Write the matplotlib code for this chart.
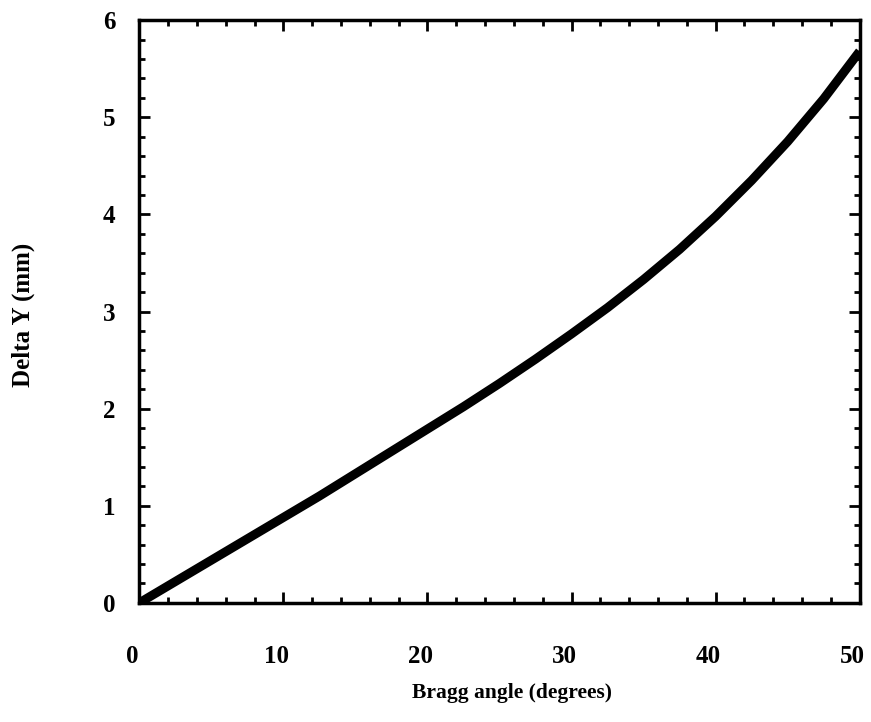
import matplotlib
matplotlib.use('Agg')
import matplotlib.pyplot as plt
import matplotlib.transforms as mtransforms
from matplotlib.ticker import MultipleLocator

# values
bragg_angle = [0, 2.5, 5, 7.5, 10, 12.5, 15, 17.5, 20, 22.5, 25,
               27.5, 30, 32.5, 35, 37.5, 40, 42.5, 45, 47.5, 50]
delta_y = [0.0, 0.22, 0.44, 0.66, 0.88, 1.10, 1.33, 1.56, 1.79, 2.02, 2.26,
           2.51, 2.77, 3.04, 3.33, 3.64, 3.98, 4.35, 4.75, 5.19, 5.68]

plt.rcParams['font.family'] = ['Liberation Serif']
plt.rcParams['font.weight'] = 'bold'

fig = plt.figure(figsize=(8.71, 7.22), dpi=100)
ax = fig.add_axes([0.160, 0.165, 0.827, 0.807])

ax.plot(bragg_angle, delta_y, '-', color='black', linewidth=6.5,
        solid_capstyle='butt', solid_joinstyle='round')

ax.set_xlim(0, 50)
ax.set_ylim(0, 6)
ax.xaxis.set_major_locator(MultipleLocator(10))
ax.xaxis.set_minor_locator(MultipleLocator(2))
ax.yaxis.set_major_locator(MultipleLocator(1))
ax.yaxis.set_minor_locator(MultipleLocator(0.2))
ax.tick_params(which='both', direction='in', top=True, right=True, width=2)
ax.tick_params(which='major', length=8, labelsize=18)
ax.tick_params(axis='x', which='major', pad=30)
ax.tick_params(axis='y', which='major', pad=17)
ax.tick_params(which='minor', length=4.5)
for s in ax.spines.values():
    s.set_linewidth(2.5)

# the scanned labels sit a little left of their ticks
shift = mtransforms.ScaledTranslation(-5 / 72, 0, fig.dpi_scale_trans)
for lbl in ax.get_xticklabels():
    lbl.set_transform(lbl.get_transform() + shift)

ax.set_xlabel('Bragg angle (degrees)', fontsize=15.5, fontweight='bold')
ax.xaxis.set_label_coords(0.517, -0.138)
ax.set_ylabel('Delta Y (mm)', fontsize=18, fontweight='bold')
ax.yaxis.set_label_coords(-0.145, 0.495)

fig.savefig('out.png', dpi=100)
